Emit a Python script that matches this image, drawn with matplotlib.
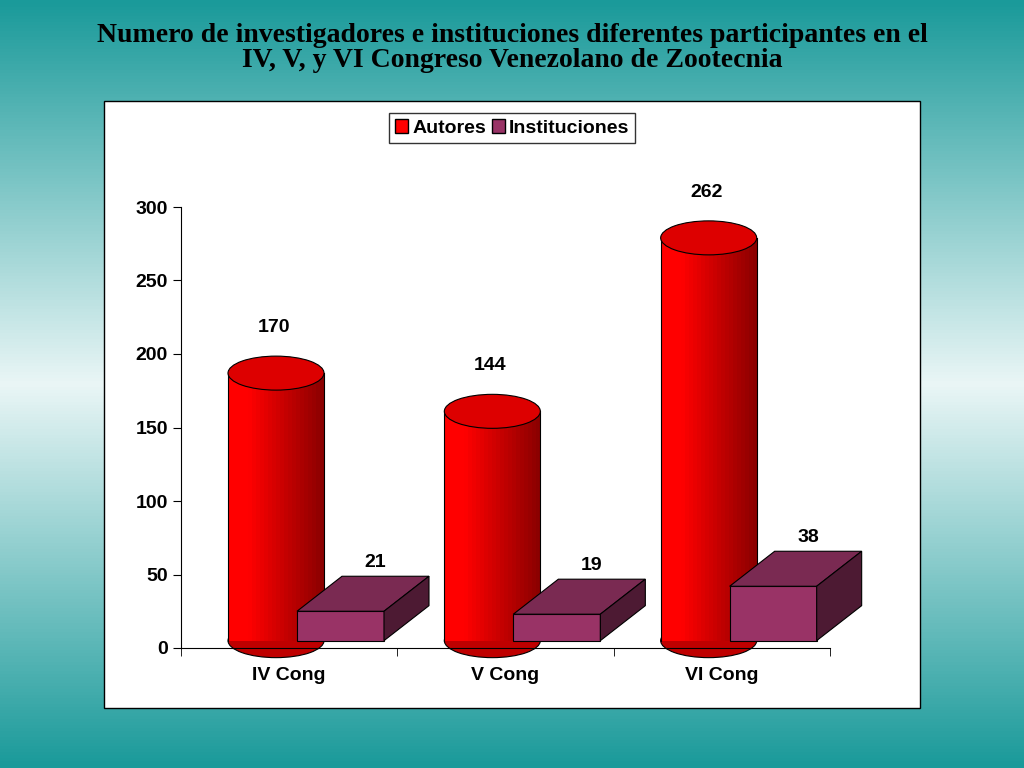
import matplotlib
matplotlib.use("Agg")
import matplotlib.pyplot as plt
import numpy as np
from matplotlib.patches import Rectangle, Ellipse, Polygon, Patch
from matplotlib.colors import LinearSegmentedColormap

categories = ["IV Cong", "V Cong", "VI Cong"]
autores = [170, 144, 262]
instituciones = [21, 19, 38]

W, H = 1024, 768
fig = plt.figure(figsize=(W/100, H/100), dpi=100)

bg = fig.add_axes([0, 0, 1, 1])
cmap = LinearSegmentedColormap.from_list("bg", ["#1a9a9a", "#eaf6f6", "#1a9a9a"])
grad = np.linspace(0, 1, 256).reshape(-1, 1)
bg.imshow(grad, aspect="auto", cmap=cmap, extent=[0, 1, 0, 1])
bg.axis("off")
bg.add_patch(Rectangle((104/W, 1-708/H), (920-104)/W, (708-101)/H, facecolor="white",
                       edgecolor="black", lw=1, transform=bg.transAxes))
fig.text(0.5, 1-48/H, "Numero de investigadores e instituciones diferentes participantes en el\nIV, V, y VI Congreso Venezolano de Zootecnia",
         ha="center", va="center", family="Liberation Serif", fontweight="bold", fontsize=20, linespacing=1.0)

x0, x1, y0, y1 = 181, 830, 648, 207
ax = fig.add_axes([x0/W, 1-y0/H, (x1-x0)/W, (y0-y1)/H])
ax.set_facecolor("none")
ax.set_xlim(0, 3)
ax.set_ylim(0, 300)
ppx = 3/(x1-x0)
ppy = 300/(y0-y1)
for s in ["top", "right"]:
    ax.spines[s].set_visible(False)
ax.set_yticks(range(0, 301, 50))
ax.set_xticks([0.5, 1.5, 2.5])
ax.set_xticklabels(categories)
ax.set_xticks([0, 1, 2, 3], minor=True)
ax.tick_params(axis="x", which="major", length=0, pad=14)
ax.tick_params(axis="x", which="minor", length=6, direction="out")
ax.tick_params(axis="y", length=6)
for t in ax.get_xticklabels() + ax.get_yticklabels():
    t.set_fontsize(14)
    t.set_family("Liberation Sans")
    t.set_fontweight("bold")

cw = 96*ppx
ew = cw
eh = 34*ppy
base = 5
for i, v in enumerate(autores):
    left = i + 47*ppx
    top = v + 17
    n = 24
    for k in range(n):
        f = k/(n-1)
        shade = 1.0 - 0.45*max(0, (f-0.2))/0.8
        ax.add_patch(Rectangle((left + k*cw/n, base), cw/n*1.02, top-base,
                               facecolor=(shade, 0, 0), edgecolor="none", zorder=2, clip_on=False))
    ax.add_patch(Ellipse((left+cw/2, base), ew, eh, facecolor=(0.75, 0, 0), edgecolor="black", lw=0.8, zorder=1, clip_on=False))
    ax.plot([left, left], [base, top], color="black", lw=0.8, zorder=3, clip_on=False)
    ax.plot([left+cw, left+cw], [base, top], color="black", lw=0.8, zorder=3, clip_on=False)
    ax.add_patch(Ellipse((left+cw/2, top), ew, eh, facecolor="#dd0000", edgecolor="black", lw=0.8, zorder=4, clip_on=False))
    ax.text(left+cw/2 - 2*ppx, v+48, str(v), ha="center", va="center", fontsize=14,
            family="Liberation Sans", fontweight="bold", zorder=5)

bw = 87*ppx
dx, dy = 45*ppx, 35*ppy
for i, v in enumerate(instituciones):
    left = i + 116*ppx
    top = v + 4
    ax.add_patch(Rectangle((left, base), bw, top-base, facecolor="#993366", edgecolor="black", lw=0.8, zorder=6, clip_on=False))
    ax.add_patch(Polygon([(left, top), (left+dx, top+dy), (left+bw+dx, top+dy), (left+bw, top)],
                         facecolor="#7a2a52", edgecolor="black", lw=0.8, zorder=6, clip_on=False))
    ax.add_patch(Polygon([(left+bw, base), (left+bw+dx, base+dy), (left+bw+dx, top+dy), (left+bw, top)],
                         facecolor="#4d1a33", edgecolor="black", lw=0.8, zorder=6, clip_on=False))
    ax.text(left+bw/2+35*ppx, v+37, str(v), ha="center", va="center", fontsize=14,
            family="Liberation Sans", fontweight="bold", zorder=7)

handles = [Patch(facecolor="#ff0000", edgecolor="black", label="Autores"),
           Patch(facecolor="#993366", edgecolor="black", label="Instituciones")]
leg = fig.legend(handles=handles, loc="center", bbox_to_anchor=(512/W, 1-128/H), ncol=2,
                 frameon=True, fancybox=False, edgecolor="black", handlelength=0.7,
                 handletextpad=0.2, columnspacing=0.3, borderpad=0.3,
                 prop={"family": "Liberation Sans", "size": 14, "weight": "bold"})
leg.get_frame().set_linewidth(1)

fig.savefig("out.png", dpi=100)
